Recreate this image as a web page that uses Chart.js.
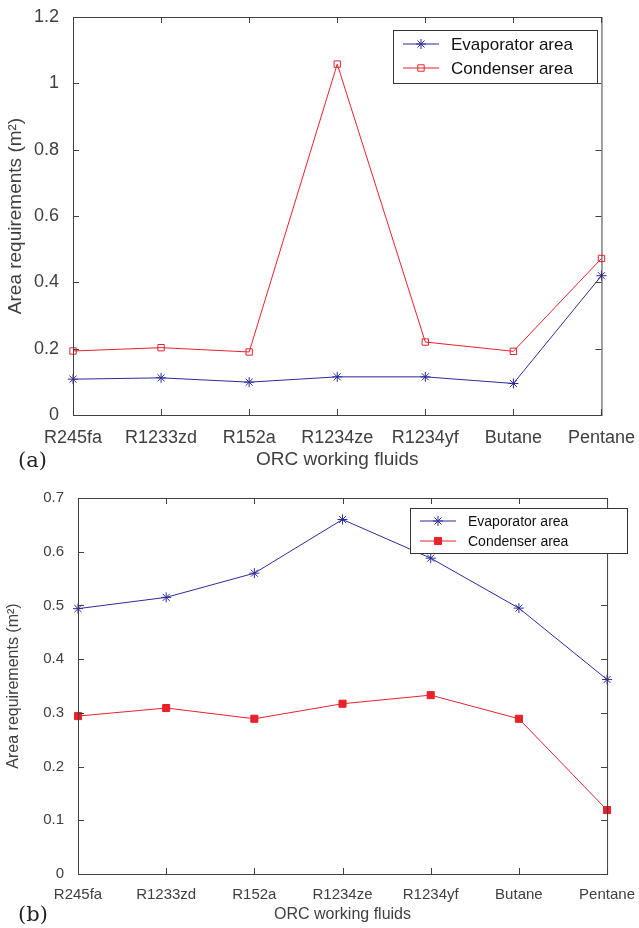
<!DOCTYPE html>
<html><head><meta charset="utf-8">
<script src="https://cdn.jsdelivr.net/npm/chart.js@4"></script>
<style>
body{margin:0;background:#fff;width:639px;height:928px;position:relative;overflow:hidden}
canvas{position:absolute;left:0}
.tag{position:absolute;font-family:"DejaVu Serif","Liberation Serif",serif;font-size:21px;color:#222}
</style></head><body>
<canvas id="ca" width="639" height="475" style="top:0"></canvas>
<canvas id="cb" width="639" height="453" style="top:475px"></canvas>
<div class="tag" style="left:18px;top:448px">(a)</div>
<div class="tag" style="left:18px;top:902px">(b)</div>
<script>
const fluids=['R245fa','R1233zd','R152a','R1234ze','R1234yf','Butane','Pentane'];
const evapA=[0.108,0.112,0.099,0.115,0.115,0.095,0.42];
const condA=[0.193,0.203,0.19,1.058,0.22,0.192,0.472];
const evapB=[0.494,0.515,0.56,0.66,0.588,0.495,0.362];
const condB=[0.294,0.309,0.289,0.317,0.333,0.289,0.119];
const BLUE='#2b2b9a', RED='#e8212b', AX='#404040', FONT='"Liberation Sans", Arial, sans-serif';

const boxPlugin={id:'box',afterDraw(c,args,o){
  const ctx=c.ctx,a=c.chartArea,x=c.scales.x,y=c.scales.y;
  ctx.save();ctx.strokeStyle=AX;ctx.lineWidth=1;
  ctx.strokeRect(a.left+.5,a.top+.5,a.right-a.left,a.bottom-a.top);
  ctx.beginPath();
  x.ticks.forEach((t,i)=>{const p=Math.round(x.getPixelForTick(i))+.5;ctx.moveTo(p,a.bottom);ctx.lineTo(p,a.bottom-6);ctx.moveTo(p,a.top);ctx.lineTo(p,a.top+6);});
  y.ticks.forEach((t,i)=>{const p=Math.round(y.getPixelForTick(i))+.5;ctx.moveTo(a.left,p);ctx.lineTo(a.left+6,p);ctx.moveTo(a.right,p);ctx.lineTo(a.right-6,p);});
  ctx.stroke();
  // legend
  const L=o.legend;ctx.fillStyle='#fff';ctx.fillRect(L.x,L.y,L.w,L.h);ctx.strokeStyle='#333';ctx.strokeRect(L.x+.5,L.y+.5,L.w,L.h);
  c.data.datasets.forEach((d,i)=>{const yy=L.y+L.first+i*L.gap;
    ctx.strokeStyle=d.borderColor;ctx.beginPath();ctx.moveTo(L.x+10,yy);ctx.lineTo(L.x+46,yy);ctx.stroke();
    ctx.fillStyle=d.pointBackgroundColor;
    Chart.helpers.drawPoint(ctx,{pointStyle:d.pointStyle,radius:d.pointRadius,borderWidth:1},L.x+28,yy);
    ctx.fillStyle='#111';ctx.font=L.fs+'px '+FONT;ctx.textBaseline='middle';ctx.fillText(d.label,L.x+58,yy+1);});
  ctx.restore();}};

function make(id,ev,co,ymax,step,condFill,pad,yw,xh,fs,leg){
  new Chart(document.getElementById(id),{type:'line',
    data:{labels:fluids,datasets:[
      {label:'Evaporator area',data:ev,borderColor:BLUE,backgroundColor:BLUE,borderWidth:1,pointStyle:'star',pointRadius:5,pointBorderColor:BLUE,pointBackgroundColor:BLUE,pointBorderWidth:1,tension:0},
      {label:'Condenser area',data:co,borderColor:RED,backgroundColor:condFill?RED:'#fff',borderWidth:1,pointStyle:'rect',pointRadius:condFill?5:4.5,pointBorderColor:RED,pointBackgroundColor:condFill?RED:'rgba(255,255,255,0)',pointBorderWidth:1,tension:0}]},
    options:{responsive:false,animation:false,layout:{padding:pad},
      plugins:{legend:{display:false},tooltip:{enabled:false},box:{legend:leg}},
      scales:{
        x:{offset:false,grid:{display:false},border:{display:false},
          ticks:{color:AX,font:{family:FONT,size:fs},padding:4,maxRotation:0,autoSkip:false},
          title:{display:true,text:'ORC working fluids',color:AX,font:{family:FONT,size:fs+1},padding:{top:0}},
          afterFit(s){s.height=xh;}},
        y:{min:0,max:ymax,grid:{display:false},border:{display:false},
          ticks:{stepSize:step,color:AX,font:{family:FONT,size:fs},padding:6,callback:v=>+v.toFixed(2)+''},
          title:{display:true,text:'Area requirements (m²)',color:AX,font:{family:FONT,size:fs+1},padding:{bottom:2}},
          afterFit(s){s.width=yw;}}}},
    plugins:[boxPlugin]});
}
make('ca',evapA,condA,1.2,0.2,false,{top:17,right:36,left:0,bottom:0},73,60,18,{x:393,y:30,w:204,h:53,first:14,gap:24,fs:17});
make('cb',evapB,condB,0.7,0.1,true,{top:23,right:7,left:0,bottom:0},78,54,15,{x:410,y:33,w:217,h:45,first:13,gap:20,fs:14});
</script></body></html>
